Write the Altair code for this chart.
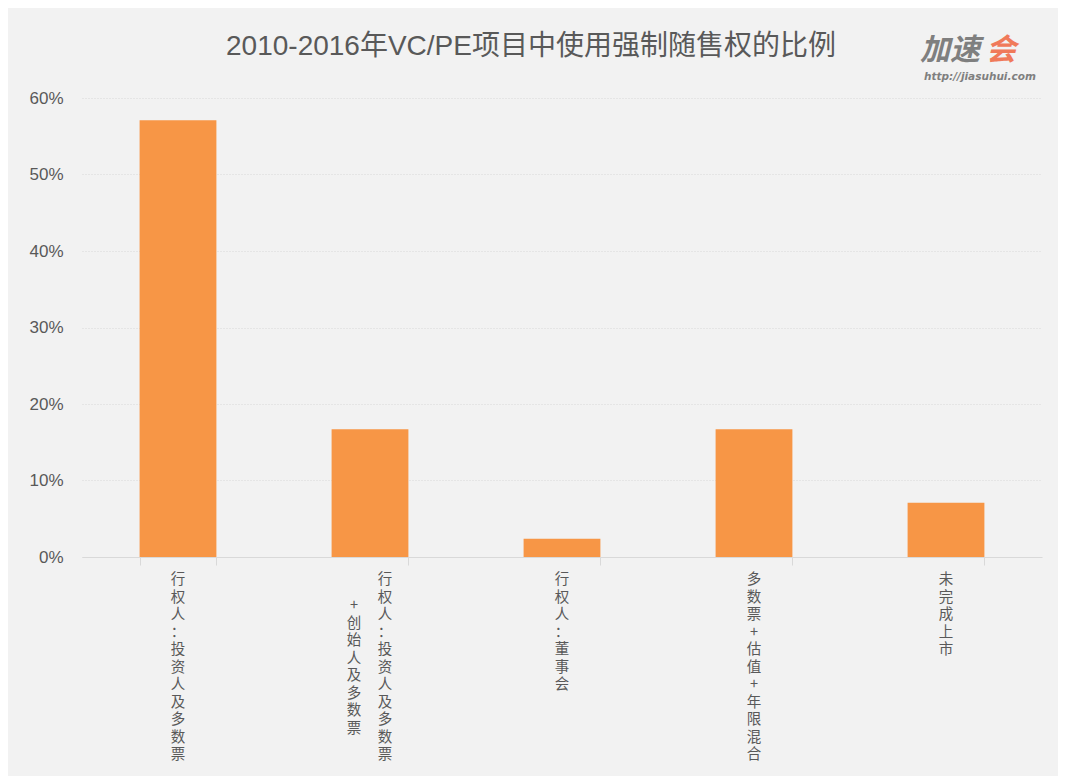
import altair as alt
import pandas as pd

categories = [
    "行权人：投资人及多数票",
    "行权人：投资人及多数票+创始人及多数票",
    "行权人：董事会",
    "多数票+估值+年限混合",
    "未完成上市",
]
values = [0.571, 0.167, 0.024, 0.167, 0.071]
y_ticks = [0, 0.1, 0.2, 0.3, 0.4, 0.5, 0.6]

title_text = "2010-2016年VC/PE项目中使用强制随售权的比例"
FONT = "Liberation Sans, Arial, Noto Sans CJK SC"
CJK = "Noto Sans CJK SC"
TXT = "#595959"

df = pd.DataFrame({"cat": categories, "val": values})


def vert(s):
    return "\n".join(list(s))


single = pd.DataFrame({
    "cat": [c for i, c in enumerate(categories) if i != 1],
    "lab": [vert(c) for i, c in enumerate(categories) if i != 1],
})
split_at = categories[1].index("+创始人")
right_col = pd.DataFrame({"cat": [categories[1]], "lab": [vert(categories[1][:split_at])]})
left_col = pd.DataFrame({"cat": [categories[1]], "lab": [vert(categories[1][split_at:])]})

xscale = alt.Scale(domain=categories, paddingInner=0.6, paddingOuter=0.3)
x_enc = alt.X("cat:N", sort=None, scale=xscale,
              axis=alt.Axis(title=None, labels=False, domain=True, domainColor="#d9d9d9",
                            domainWidth=1, ticks=True, tickBand="extent", tickSize=8,
                            tickColor="#d9d9d9", grid=False))

bars = alt.Chart(df).mark_bar(color="#F79646").encode(
    x=x_enc,
    y=alt.Y("val:Q", scale=alt.Scale(domain=[0, 0.6], nice=False),
            axis=alt.Axis(title=None, values=y_ticks, format=".0%", domain=False, ticks=False,
                          labelPadding=19, labelFontSize=17, labelColor=TXT, labelFont=FONT,
                          grid=True, gridColor="#d9d9d9", gridDash=[1, 2], gridWidth=1)),
)

LH = 17.5
common = dict(font=CJK, fontSize=14.5, color=TXT, baseline="top", align="center", lineBreak="\n",
              lineHeight=LH)

lab_single = alt.Chart(single).mark_text(**common).encode(
    x=alt.X("cat:N", sort=None, scale=xscale), y=alt.value(475), text="lab:N")
lab_right = alt.Chart(right_col).mark_text(dx=15, **common).encode(
    x=alt.X("cat:N", sort=None, scale=xscale), y=alt.value(475), text="lab:N")
lab_left = alt.Chart(left_col).mark_text(dx=-16, **common).encode(
    x=alt.X("cat:N", sort=None, scale=xscale), y=alt.value(475 + 1.5 * LH), text="lab:N")

title_df = pd.DataFrame({"t": [title_text]})
title = alt.Chart(title_df).mark_text(
    font=FONT, fontSize=28, color=TXT, align="center", baseline="alphabetic").encode(
    x=alt.value(449), y=alt.value(-43), text="t:N")

logo_df = pd.DataFrame({"t": ["加速", "会", "http://jiasuhui.com"]})
logo1 = alt.Chart(logo_df.iloc[[0]]).mark_text(
    font=CJK, fontSize=30, fontWeight="bold", fontStyle="italic", color="#7f7f7f", align="left",
    baseline="alphabetic").encode(x=alt.value(838), y=alt.value(-38), text="t:N")
logo2 = alt.Chart(logo_df.iloc[[1]]).mark_text(
    font=CJK, fontSize=30, fontWeight="bold", fontStyle="italic", color="#F07A5A", align="left",
    baseline="alphabetic").encode(x=alt.value(904), y=alt.value(-38), text="t:N")
logo3 = alt.Chart(logo_df.iloc[[2]]).mark_text(
    font="DejaVu Sans", fontSize=10.5, fontStyle="italic", fontWeight="bold", color="#7f7f7f",
    align="left", baseline="alphabetic").encode(x=alt.value(842), y=alt.value(-18), text="t:N")

chart = alt.layer(bars, lab_single, lab_right, lab_left, title, logo1, logo2, logo3).properties(
    width=960,
    height=459,
    autosize="none",
    padding={"left": 74, "top": 90, "right": 16, "bottom": 219},
    background="#f2f2f2",
).configure_view(stroke=None)

chart.save("out.html", embed_options={"renderer": "svg", "actions": False})
